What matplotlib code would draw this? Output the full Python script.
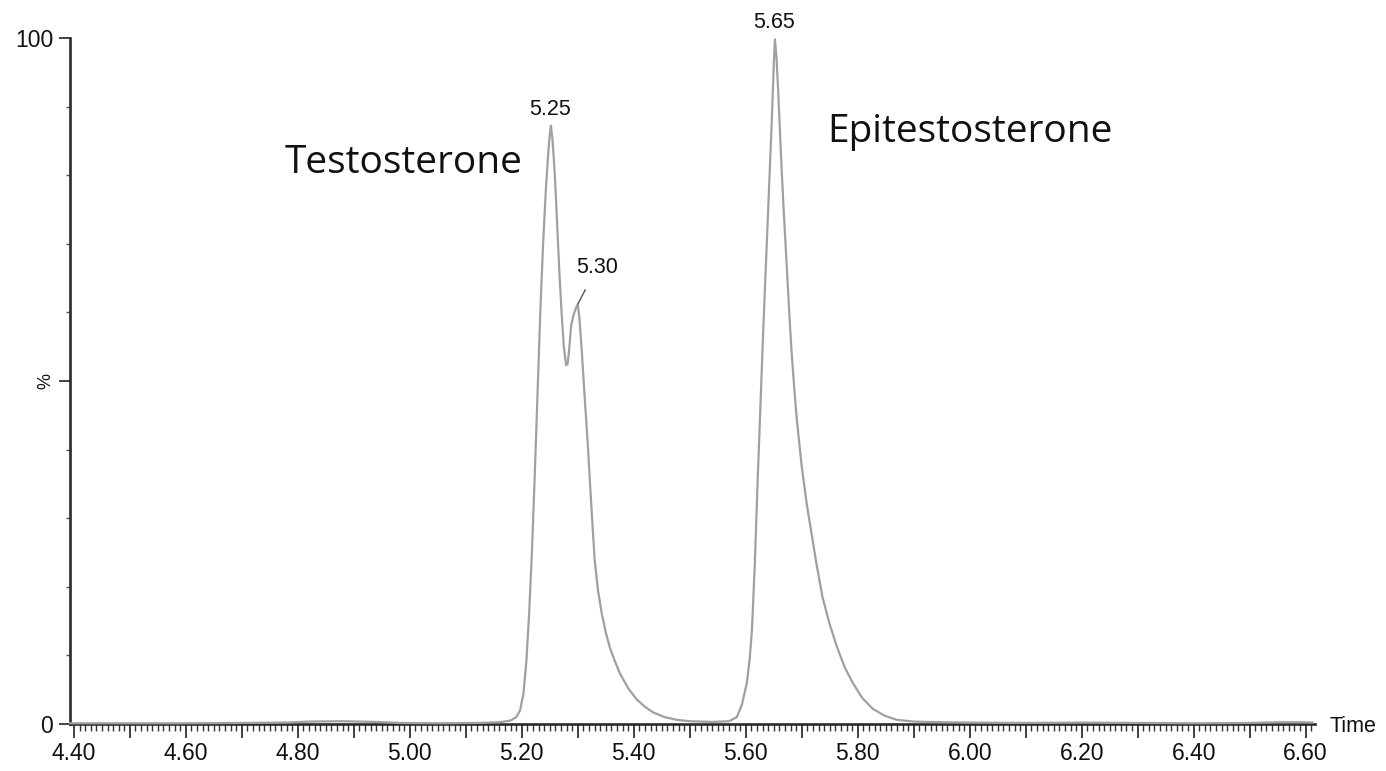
import matplotlib; matplotlib.use("Agg")
import matplotlib.pyplot as plt
import matplotlib.transforms as mtransforms
from matplotlib.ticker import MultipleLocator, FuncFormatter

# retention time (min) and relative intensity (%)
time = [4.393, 4.50, 4.60, 4.70, 4.78, 4.82, 4.88, 4.94, 4.98, 5.05, 5.12, 5.16,
        5.180, 5.190, 5.197, 5.203, 5.208, 5.213, 5.218, 5.223, 5.228, 5.233, 5.238,
        5.243, 5.247, 5.250, 5.252, 5.255, 5.259, 5.263, 5.267, 5.271, 5.275, 5.279,
        5.282, 5.285, 5.288, 5.292, 5.296, 5.300, 5.303, 5.307, 5.312, 5.318, 5.324,
        5.330, 5.336, 5.343, 5.350, 5.357, 5.366, 5.375, 5.390, 5.405, 5.420, 5.434,
        5.455, 5.477, 5.50, 5.54, 5.57,
        5.584, 5.593, 5.602, 5.607, 5.611, 5.616, 5.621, 5.626, 5.631, 5.636, 5.641,
        5.646, 5.650, 5.652, 5.655, 5.658, 5.661, 5.664, 5.667, 5.670, 5.673, 5.676,
        5.679, 5.682, 5.687, 5.691, 5.700, 5.709, 5.718, 5.727, 5.737, 5.750, 5.763,
        5.777, 5.791, 5.808, 5.827, 5.848, 5.870, 5.90, 5.95, 6.00, 6.10, 6.20, 6.30,
        6.40, 6.50, 6.55, 6.60, 6.612]
intensity = [0.1, 0.1, 0.1, 0.15, 0.2, 0.35, 0.4, 0.3, 0.15, 0.1, 0.15, 0.25,
             0.5, 1.0, 2.0, 4.5, 9, 16, 25, 36, 48, 60, 70,
             78, 83, 86, 87.2, 85, 80, 73, 66, 60, 55, 52.3,
             52.5, 55, 58, 59.5, 60.5, 61.2, 59, 54.5, 48, 40.5, 32,
             24, 19.5, 16, 13.3, 11.2, 9.2, 7.4, 5.2, 3.6, 2.5, 1.7,
             1.0, 0.6, 0.4, 0.3, 0.4,
             1.0, 2.8, 6, 9.5, 13.7, 23, 35, 46, 57, 67, 77,
             87, 96, 99.8, 97, 92, 86.5, 81, 76, 71.5, 67, 62.5,
             58, 54, 48.5, 44.5, 37.5, 32, 27.5, 23, 18.5, 14.5, 11.2,
             8.2, 6, 3.8, 2.2, 1.2, 0.6, 0.35, 0.25, 0.2, 0.15, 0.2, 0.15,
             0.1, 0.15, 0.25, 0.25, 0.2]

peak_rt = [5.25, 5.30, 5.65]
peak_txt = ["5.25", "5.30", "5.65"]
peak_top = [87.2, 61.2, 99.8]
compounds = ["Testosterone", "Epitestosterone"]

INK = "#111111"
plt.rcParams["font.family"] = ["Liberation Sans", "DejaVu Sans"]

fig = plt.figure(figsize=(13.86, 7.71), dpi=100)
ax = fig.add_axes([0.0505, 0.061, 0.898, 0.8898])
ax.plot(time, intensity, color="#a0a0a0", lw=1.6, zorder=3, clip_on=False)

ax.set_xlim(4.393, 6.616)
ax.set_ylim(0, 100)
for s in ("top", "right"):
    ax.spines[s].set_visible(False)
for s in ("left", "bottom"):
    ax.spines[s].set_linewidth(1.9)
    ax.spines[s].set_color("#2a2a2a")

# x: labels every 0.2, ticks every 0.1, minor every 0.01
ax.xaxis.set_major_locator(MultipleLocator(0.1))
ax.xaxis.set_minor_locator(MultipleLocator(0.01))
ax.xaxis.set_major_formatter(FuncFormatter(
    lambda v, p: "%.2f" % v if round(v * 10) % 2 == 0 else ""))
ax.tick_params(axis="x", which="major", length=10, width=1.3, pad=3,
               labelsize=16.5, color="#333333", labelcolor=INK)
ax.tick_params(axis="x", which="minor", length=5, width=1.0, color="#333333")

# y: 0 and 100 labelled, 50 tick, minor every 10
ax.set_yticks([0, 50, 100])
ax.set_yticklabels(["0", "", "100"])
ax.yaxis.set_minor_locator(MultipleLocator(10))
ax.tick_params(axis="y", which="major", length=8, width=1.3, pad=4,
               labelsize=16.5, color="#333333", labelcolor=INK)
ax.tick_params(axis="y", which="minor", length=3, width=1.0, color="#555555")

tr = mtransforms.blended_transform_factory(ax.transAxes, ax.transData)
ax.text(-0.019, 50, "%", transform=tr, rotation=90, fontsize=13,
        ha="center", va="center", color=INK)
ax.text(1.012, -0.4, "Time", transform=tr, fontsize=15.5, ha="left",
        va="center", color=INK)

# peak apex labels
ax.text(peak_rt[0], peak_top[0] + 2.4, peak_txt[0], fontsize=15.5,
        ha="center", va="center", color=INK)
ax.annotate(peak_txt[1], xy=(peak_rt[1], peak_top[1]),
            xytext=(peak_rt[1] + 0.034, peak_top[1] + 5.3), fontsize=15.5,
            ha="center", va="center", color=INK,
            arrowprops=dict(arrowstyle="-", color="#555555", lw=1.0,
                            shrinkA=7, shrinkB=0))
ax.text(peak_rt[2], peak_top[2] + 2.4, peak_txt[2], fontsize=15.5,
        ha="center", va="center", color=INK, clip_on=False)

# compound names
ax.text(4.777, 81.8, compounds[0], fontsize=28, family="Open Sans",
        ha="left", va="center", color=INK)
ax.text(5.745, 86.3, compounds[1], fontsize=28, family="Open Sans",
        ha="left", va="center", color=INK)

fig.savefig("out.png", dpi=100)
